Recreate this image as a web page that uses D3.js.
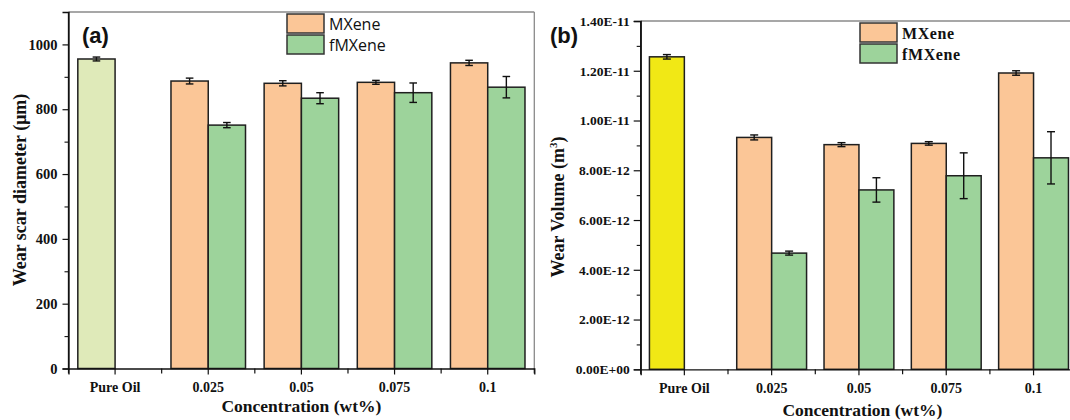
<!DOCTYPE html>
<html>
<head>
<meta charset="utf-8">
<script src="https://cdn.jsdelivr.net/npm/d3@7/dist/d3.min.js"></script>
<style>
  html, body { margin: 0; padding: 0; background: #fff; }
  svg { display: block; }
  .tick text { font-family: "Liberation Serif", "Times New Roman", serif; font-weight: bold; fill: #111; }
</style>
</head>
<body>
<svg id="chart" width="1070" height="420"></svg>
<script>
// Concentration groups shared by both panels
const categories = ["Pure Oil", "0.025", "0.05", "0.075", "0.1"];
const seriesNames = ["MXene", "fMXene"];

// Panel (a): wear scar diameter, µm (Pure Oil sits in the first slot)
const diameterMXene    = [955, 887, 880, 883, 943];
const diameterMXeneErr = [6, 9, 8, 6, 8];
const diameterFMXene    = [null, 751, 834, 851, 868];
const diameterFMXeneErr = [null, 8, 17, 30, 33];
const diameterTicks = [0, 200, 400, 600, 800, 1000];

// Panel (b): wear volume, m³
const volumeMXene    = [1.256e-11, 9.32e-12, 9.03e-12, 9.08e-12, 1.191e-11];
const volumeMXeneErr = [0.9e-13, 1.0e-13, 0.8e-13, 0.7e-13, 0.9e-13];
const volumeFMXene    = [null, 4.67e-12, 7.21e-12, 7.78e-12, 8.50e-12];
const volumeFMXeneErr = [null, 0.8e-13, 4.9e-13, 9.2e-13, 1.05e-12];
const volumeTicks = [0, 2e-12, 4e-12, 6e-12, 8e-12, 1e-11, 1.2e-11, 1.4e-11];

const colors = { MXene: "#fbc697", fMXene: "#9dd39b" };
const SERIF = '"Liberation Serif", "Times New Roman", serif';

const svg = d3.select("#chart");

function sciLabel(v) {
  if (v === 0) return "0.00E+00";
  const [m, e] = v.toExponential(2).split("e");
  const n = +e;
  return m + "E" + (n < 0 ? "-" : "+") + String(Math.abs(n)).padStart(2, "0");
}

function drawPanel(cfg) {
  const g = svg.append("g");
  const x = d3.scaleBand().domain(categories).range([cfg.left, cfg.right]).paddingInner(0).paddingOuter(0);
  const inner = d3.scaleBand().domain(seriesNames)
    .range([x.bandwidth() * 0.1, x.bandwidth() * 0.9]);
  const y = d3.scaleLinear().domain(cfg.domain).range([cfg.bottom, cfg.top]);

  // frame (top / right in grey)
  g.append("line").attr("x1", cfg.left).attr("x2", cfg.right)
    .attr("y1", cfg.top).attr("y2", cfg.top)
    .attr("stroke", "#8a8a8a").attr("stroke-width", 1.3);
  g.append("line").attr("x1", cfg.right).attr("x2", cfg.right)
    .attr("y1", cfg.top).attr("y2", cfg.bottom)
    .attr("stroke", "#8a8a8a").attr("stroke-width", 1.3);

  // bars
  const rows = [];
  categories.forEach((c, i) => {
    rows.push({ cat: c, s: "MXene", v: cfg.mx[i], err: cfg.mxErr[i],
                fill: i === 0 ? cfg.pureColor : colors.MXene });
    if (cfg.fm[i] != null)
      rows.push({ cat: c, s: "fMXene", v: cfg.fm[i], err: cfg.fmErr[i], fill: colors.fMXene });
  });

  g.selectAll("rect.bar").data(rows).join("rect")
    .attr("class", "bar")
    .attr("x", d => x(d.cat) + inner(d.s))
    .attr("y", d => y(d.v))
    .attr("width", inner.bandwidth())
    .attr("height", d => y(0) - y(d.v))
    .attr("fill", d => d.fill)
    .attr("stroke", "#1f1f1f").attr("stroke-width", 1.5);

  // error bars
  const eb = g.selectAll("g.err").data(rows).join("g").attr("class", "err")
    .attr("stroke", "#111").attr("stroke-width", 1.4);
  const cx = d => x(d.cat) + inner(d.s) + inner.bandwidth() / 2;
  eb.append("line").attr("x1", cx).attr("x2", cx)
    .attr("y1", d => y(d.v + d.err)).attr("y2", d => y(d.v - d.err));
  eb.append("line").attr("x1", d => cx(d) - cfg.cap).attr("x2", d => cx(d) + cfg.cap)
    .attr("y1", d => y(d.v + d.err)).attr("y2", d => y(d.v + d.err));
  eb.append("line").attr("x1", d => cx(d) - cfg.cap).attr("x2", d => cx(d) + cfg.cap)
    .attr("y1", d => y(d.v - d.err)).attr("y2", d => y(d.v - d.err));

  // y axis with minor ticks
  const yAxis = g.append("g").attr("transform", `translate(${cfg.left},0)`)
    .call(d3.axisLeft(y).tickValues(cfg.ticks).tickFormat(cfg.fmt)
      .tickSizeOuter(0).tickSize(cfg.tickLen).tickPadding(cfg.tickPad));
  yAxis.selectAll("text").style("font-size", cfg.yFont + "px");
  yAxis.select(".domain").attr("stroke", "#111").attr("stroke-width", 1.3);
  yAxis.selectAll(".tick line").attr("stroke", "#111").attr("stroke-width", 1.2);
  g.append("g").attr("transform", `translate(${cfg.left},0)`)
    .call(d3.axisLeft(y).tickValues(cfg.minor).tickFormat("").tickSizeOuter(0).tickSize(4))
    .call(s => { s.select(".domain").remove(); s.selectAll("line").attr("stroke", "#111").attr("stroke-width", 1.1); });
  // extend the axis line to the frame top
  g.append("line").attr("x1", cfg.left).attr("x2", cfg.left)
    .attr("y1", cfg.top).attr("y2", cfg.bottom).attr("stroke", "#111").attr("stroke-width", 1.3);

  // x axis: ticks at group centres and boundaries
  const xAxis = g.append("g").attr("transform", `translate(0,${cfg.bottom})`)
    .call(d3.axisBottom(x).tickSizeOuter(0).tickSize(6).tickPadding(8));
  xAxis.selectAll("text").style("font-size", cfg.xFont + "px");
  xAxis.select(".domain").attr("stroke", "#111").attr("stroke-width", 1.3);
  xAxis.selectAll(".tick line").attr("stroke", "#111").attr("stroke-width", 1.2);
  const bounds = categories.map(c => x(c)).concat([x(categories[categories.length - 1]) + x.bandwidth()]);
  g.selectAll("line.xb").data(bounds).join("line").attr("class", "xb")
    .attr("x1", d => d).attr("x2", d => d)
    .attr("y1", cfg.bottom).attr("y2", cfg.bottom + 5)
    .attr("stroke", "#111").attr("stroke-width", 1.2);

  // legend
  seriesNames.forEach((s, i) => {
    g.append("rect")
      .attr("x", cfg.legX).attr("y", cfg.legY + i * 21)
      .attr("width", 37).attr("height", 19)
      .attr("fill", colors[s]).attr("stroke", "#333").attr("stroke-width", 1.5);
    g.append("text")
      .attr("x", cfg.legX + 42).attr("y", cfg.legY + i * 21 + 15.5)
      .attr("font-family", cfg.legFont).attr("font-weight", cfg.legWeight)
      .attr("font-size", cfg.legSize + "px")
      .attr("letter-spacing", cfg.legSpacing)
      .attr("fill", "#111").text(s);
  });

  // panel tag
  g.append("text").attr("x", cfg.tagX).attr("y", 43)
    .attr("font-family", '"Liberation Sans", Arial, sans-serif')
    .attr("font-weight", "bold").attr("font-size", "22px").attr("fill", "#111")
    .text(cfg.tag);

  // axis titles
  g.append("text")
    .attr("x", (cfg.left + Math.min(cfg.right, 1070)) / 2 + cfg.xTitleShift).attr("y", cfg.xTitleY)
    .attr("text-anchor", "middle")
    .attr("font-family", SERIF).attr("font-weight", "bold").attr("font-size", "17.5px")
    .attr("fill", "#111")
    .text("Concentration (wt%)");
  const yt = g.append("text")
    .attr("transform", `translate(${cfg.yTitleX},${cfg.yTitleY}) rotate(-90)`)
    .attr("text-anchor", "middle")
    .attr("font-family", SERIF).attr("font-weight", "bold").attr("font-size", "18px")
    .attr("fill", "#111");
  cfg.yTitle(yt);
}

drawPanel({
  left: 68.5, right: 534.3, top: 12, bottom: 368.5,
  domain: [0, 1100], ticks: diameterTicks,
  minor: d3.range(100, 1100, 200),
  fmt: d3.format("d"), tickLen: 6, tickPad: 5, yFont: 14.5, xFont: 14,
  mx: diameterMXene, mxErr: diameterMXeneErr,
  fm: diameterFMXene, fmErr: diameterFMXeneErr,
  pureColor: "#dfeab9", cap: 3.8,
  legX: 287, legY: 14,
  legFont: '"Open Sans", "Liberation Sans", sans-serif', legWeight: "normal", legSize: 16, legSpacing: 0,
  tag: "(a)", tagX: 82,
  xTitleY: 412, xTitleShift: 0,
  yTitleX: 26, yTitleY: 190,
  yTitle: t => t.text("Wear scar diameter (μm)")
});

drawPanel({
  left: 640.7, right: 1077.2, top: 21, bottom: 369.3,
  domain: [0, 1.4e-11], ticks: volumeTicks,
  minor: d3.range(1, 14, 2).map(k => k * 1e-12),
  fmt: sciLabel, tickLen: 7, tickPad: 4, yFont: 13.5, xFont: 14,
  mx: volumeMXene, mxErr: volumeMXeneErr,
  fm: volumeFMXene, fmErr: volumeFMXeneErr,
  pureColor: "#f1e815", cap: 4,
  legX: 860, legY: 23,
  legFont: SERIF, legWeight: "bold", legSize: 16, legSpacing: 0.6,
  tag: "(b)", tagX: 550,
  xTitleY: 415.5, xTitleShift: 7,
  yTitleX: 564, yTitleY: 207,
  yTitle: t => {
    t.append("tspan").text("Wear Volume (m");
    t.append("tspan").attr("dy", -7).attr("font-size", "11px").text("3");
    t.append("tspan").attr("dy", 7).text(")");
  }
});
</script>
</body>
</html>
